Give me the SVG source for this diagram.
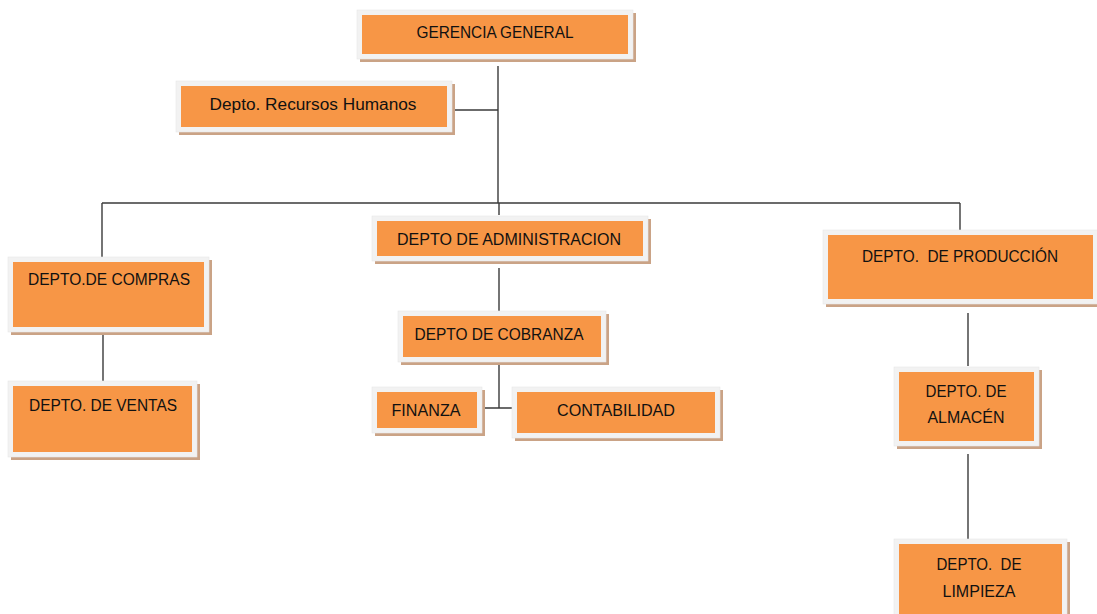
<svg xmlns="http://www.w3.org/2000/svg" width="1097" height="614" viewBox="0 0 1097 614">
<style>
.sh{fill:#caa386}
.fr{fill:#f2f2f2;stroke:#e6e6e6;stroke-width:0.6}
.or{fill:#f79646}
.t{font-family:"Liberation Sans",Arial,sans-serif;font-size:16px;fill:#111111;text-anchor:middle;white-space:pre}
.c{stroke:#3a3a3a;stroke-width:1.4;fill:none}
</style>
<rect width="1097" height="614" fill="#ffffff"/>
<g id="connectors">
<line class="c" x1="498" y1="66" x2="498" y2="203"/>
<line class="c" x1="453" y1="110" x2="498" y2="110"/>
<line class="c" x1="102" y1="203" x2="960" y2="203"/>
<line class="c" x1="102" y1="203" x2="102" y2="257"/>
<line class="c" x1="960" y1="203" x2="960" y2="230"/>
<line class="c" x1="499" y1="203" x2="499" y2="215"/>
<line class="c" x1="499" y1="268" x2="499" y2="311"/>
<line class="c" x1="103" y1="333" x2="103" y2="381"/>
<line class="c" x1="499" y1="363" x2="499" y2="408"/>
<line class="c" x1="483" y1="408" x2="517" y2="408"/>
<line class="c" x1="968" y1="313" x2="968" y2="366"/>
<line class="c" x1="968" y1="454" x2="968" y2="542"/>
</g>
<g id="gerencia">
<rect class="sh" x="360" y="13" width="276" height="49"/>
<rect class="fr" x="357" y="10" width="276" height="49"/>
<rect class="or" x="362" y="15" width="266" height="39"/>
<text class="t" x="495" y="38" textLength="157" lengthAdjust="spacingAndGlyphs">GERENCIA GENERAL</text>
</g>
<g id="rrhh">
<rect class="sh" x="179" y="84" width="276" height="51"/>
<rect class="fr" x="176" y="81" width="276" height="51"/>
<rect class="or" x="181" y="86" width="266" height="41"/>
<text class="t" x="313" y="110" textLength="207" lengthAdjust="spacingAndGlyphs">Depto. Recursos Humanos</text>
</g>
<g id="compras">
<rect class="sh" x="11" y="260" width="201" height="75"/>
<rect class="fr" x="8" y="257" width="201" height="75"/>
<rect class="or" x="13" y="262" width="191" height="65"/>
<text class="t" x="109" y="285" textLength="162" lengthAdjust="spacingAndGlyphs">DEPTO.DE COMPRAS</text>
</g>
<g id="ventas">
<rect class="sh" x="11" y="384" width="189" height="76"/>
<rect class="fr" x="8" y="381" width="189" height="76"/>
<rect class="or" x="13" y="386" width="179" height="66"/>
<text class="t" x="103" y="411" textLength="148" lengthAdjust="spacingAndGlyphs">DEPTO. DE VENTAS</text>
</g>
<g id="administracion">
<rect class="sh" x="375" y="219" width="276" height="45"/>
<rect class="fr" x="372" y="216" width="276" height="45"/>
<rect class="or" x="377" y="221" width="266" height="35"/>
<text class="t" x="509" y="245" textLength="224" lengthAdjust="spacingAndGlyphs">DEPTO DE ADMINISTRACION</text>
</g>
<g id="cobranza">
<rect class="sh" x="401" y="314" width="208" height="51"/>
<rect class="fr" x="398" y="311" width="208" height="51"/>
<rect class="or" x="403" y="316" width="198" height="41"/>
<text class="t" x="499" y="340" textLength="169" lengthAdjust="spacingAndGlyphs">DEPTO DE COBRANZA</text>
</g>
<g id="finanza">
<rect class="sh" x="375" y="390" width="110" height="46"/>
<rect class="fr" x="372" y="387" width="110" height="46"/>
<rect class="or" x="377" y="392" width="100" height="36"/>
<text class="t" x="426" y="416" textLength="69" lengthAdjust="spacingAndGlyphs">FINANZA</text>
</g>
<g id="contabilidad">
<rect class="sh" x="515" y="390" width="208" height="51"/>
<rect class="fr" x="512" y="387" width="208" height="51"/>
<rect class="or" x="517" y="392" width="198" height="41"/>
<text class="t" x="616" y="416" textLength="118" lengthAdjust="spacingAndGlyphs">CONTABILIDAD</text>
</g>
<g id="produccion">
<rect class="sh" x="826" y="233" width="275" height="74"/>
<rect class="fr" x="823" y="230" width="275" height="74"/>
<rect class="or" x="828" y="235" width="265" height="64"/>
<text class="t" x="960" y="262" textLength="196" lengthAdjust="spacingAndGlyphs">DEPTO.  DE PRODUCCIÓN</text>
</g>
<g id="almacen">
<rect class="sh" x="897" y="370" width="145" height="79"/>
<rect class="fr" x="894" y="367" width="145" height="79"/>
<rect class="or" x="899" y="372" width="135" height="69"/>
<text class="t" x="966" y="397" textLength="81" lengthAdjust="spacingAndGlyphs">DEPTO. DE</text>
<text class="t" x="966" y="423" textLength="77" lengthAdjust="spacingAndGlyphs">ALMACÉN</text>
</g>
<g id="limpieza">
<rect class="sh" x="897" y="542" width="173" height="85"/>
<rect class="fr" x="894" y="539" width="173" height="85"/>
<rect class="or" x="899" y="544" width="163" height="75"/>
<text class="t" x="979" y="570" textLength="85" lengthAdjust="spacingAndGlyphs">DEPTO.  DE</text>
<text class="t" x="979" y="597" textLength="73" lengthAdjust="spacingAndGlyphs">LIMPIEZA</text>
</g>
</svg>
